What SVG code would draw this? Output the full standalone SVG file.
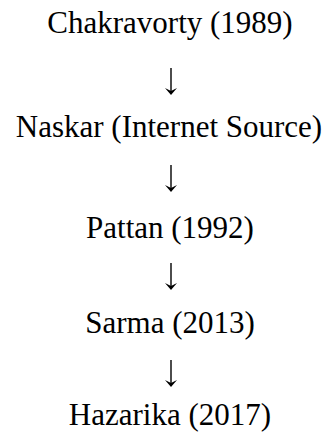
<svg xmlns="http://www.w3.org/2000/svg" width="334" height="434" viewBox="0 0 334 434">
<style>
text{font-family:"Liberation Serif","Times New Roman",serif;font-size:31px;fill:#000;text-anchor:middle}
.shaft{stroke:#000;stroke-width:1.4;fill:none}
.head{fill:#000;stroke:none}
</style>
<defs>
<g id="arr">
<line class="shaft" x1="0" y1="0" x2="0" y2="24"/>
<polygon class="head" points="-6,20 0,27 6,20 0,23"/>
</g>
</defs>
<rect width="334" height="434" fill="#fff"/>
<g id="n1"><text x="170" y="33">Chakravorty (1989)</text></g>
<g id="n2"><text x="169" y="137">Naskar (Internet Source)</text></g>
<g id="n3"><text x="170" y="238">Pattan (1992)</text></g>
<g id="n4"><text x="170" y="333">Sarma (2013)</text></g>
<g id="n5"><text x="170" y="425">Hazarika (2017)</text></g>
<g id="connectors">
<use href="#arr" x="171" y="68"/>
<use href="#arr" x="171" y="165"/>
<use href="#arr" x="171" y="263"/>
<use href="#arr" x="171" y="360"/>
</g>
</svg>
